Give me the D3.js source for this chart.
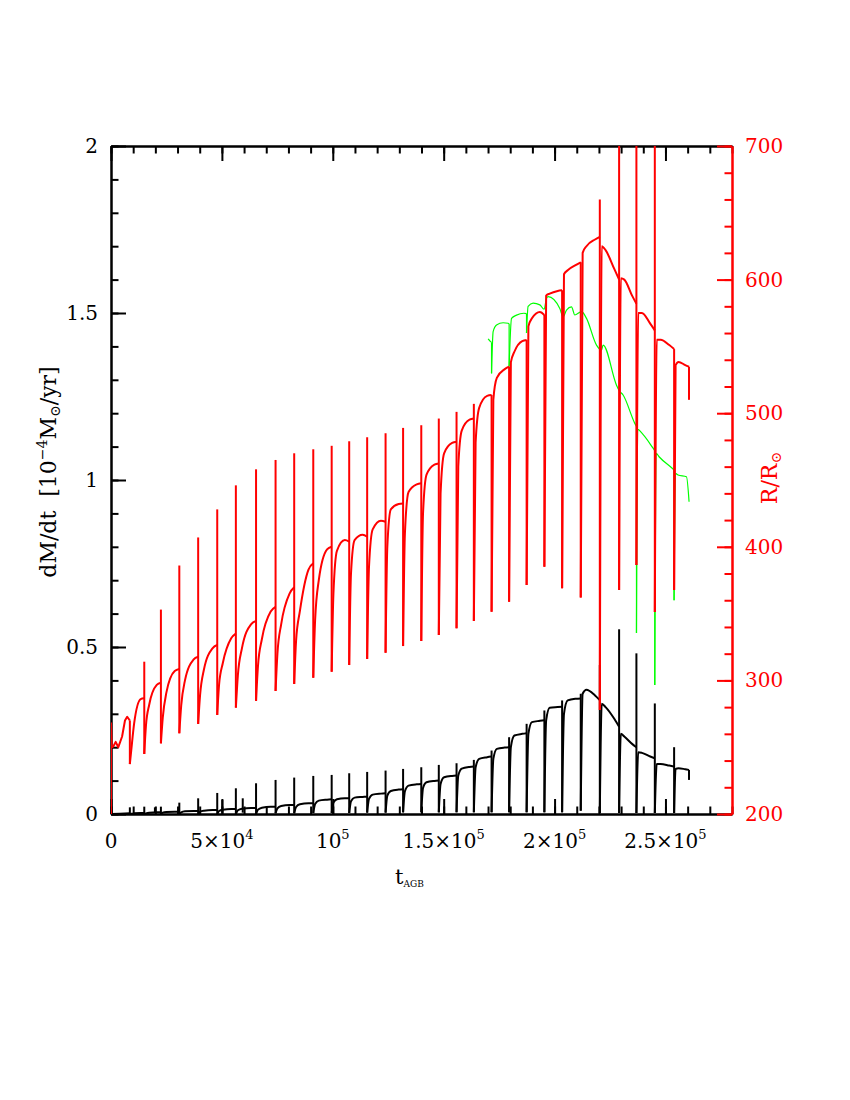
<!DOCTYPE html>
<html><head><meta charset="utf-8">
<script src="https://cdn.jsdelivr.net/npm/d3@7"></script>
<style>body{margin:0;background:#fff} text{font-family:"DejaVu Serif",serif}</style>
</head><body><svg id="c" width="850" height="1100" xmlns="http://www.w3.org/2000/svg"></svg>
<script>
// ---------------- DATA ----------------
// thermal pulse times (yr)
const pulseT = [8500, 15000, 22500, 30800, 39300, 47900, 56300, 65400, 74200, 82600, 91200, 99500, 107400, 115500, 123800, 131700, 139900, 147800, 155800, 163600, 171600, 179500, 187400, 195400, 203400, 211800, 220400, 229100, 236900, 245200, 253900];
const tEnd = 260600;

// Red: R/R_sun (right axis). Per pulse: spike top, post-pulse dip; per interpulse: values at ~10%, 30%, 75%, 100%
const rSpike = [null, 314, 353, 386, 407, 428, 446, 458, 465, 470, 473, 475.6, 479, 482, 485, 489, 491, 496, 501, 507, null, null, null, null, null, null, 660, 720, 720, 720, 442];
const rDip   = [237.4, 244.9, 252.9, 260.4, 267.4, 274.1, 279.6, 284.7, 292.1, 297.3, 302, 306.5, 311.5, 316, 320.7, 325.7, 329.5, 334, 339, 344.5, 351.4, 358.9, 371.4, 385.1, 368.9, 362, 277.8, 367.7, 386.4, 351.2, 367.7];
const rRise  = [248, 266, 272, 281, 289, 297, 304, 311, 320, 330, 345, 365, 380, 385, 400, 410, 425, 440, 460, 478, 510, 538, 565, 588, 604, 620, 625, 601, 575, 555, 536];
const rKnee  = [268, 282, 291, 300, 308, 313, 324, 331, 342, 352, 375, 397, 405, 413, 428, 441, 454, 470, 487, 504, 526.5, 546, 571, 589.5, 607, 625, 622, 600, 575, 555, 538.4];
const rTop   = [286, 296.6, 307, 315.5, 324, 331.5, 342, 351.5, 365, 383, 398, 405, 409, 419.5, 432, 446.7, 461.5, 477.7, 495.2, 513, 533, 554, 575.8, 591.5, 611, 630, 608, 588, 567, 551, 536];
const rEnd   = [286.6, 298.3, 308.5, 317.7, 326.5, 335, 344.5, 355, 369.7, 387.6, 400, 403.8, 407.5, 418.7, 432.4, 447.5, 462.4, 478.6, 496, 513.6, 534.8, 554.8, 573.5, 592, 613, 632, 600, 582, 562, 548, 534.8];
const rFinal = 510;
const rStartT = [0, 0, 300, 1000, 2100, 3300, 5000, 6300, 7300, 8500];
const rStartV = [200, 268, 250, 250.4, 254, 250, 258, 270, 272.8, 270];

// Black: dM/dt in 1e-4 Msun/yr (left axis)
const bSpike = [0.02, 0.022, 0.022, 0.034, 0.047, 0.063, 0.077, 0.092, 0.102, 0.109, 0.114, 0.117, 0.122, 0.126, 0.13, 0.135, 0.14, 0.147, 0.152, 0.162, 0.19, 0.23, 0.27, 0.31, 0.34, 0.36, 0.446, 0.553, 0.481, 0.331, 0.2];
const bDip   = [0, 0, 0, 0, 0, 0, 0, 0, 0.002, 0.002, 0.003, 0.003, 0.003, 0.004, 0.004, 0.005, 0.005, 0.005, 0.005, 0.005, 0.005, 0.005, 0.005, 0.005, 0.005, 0.01, 0.003, 0.003, 0.003, 0.003, 0.003];
const bRise  = [0.001, 0.002, 0.004, 0.005, 0.007, 0.009, 0.011, 0.013, 0.017, 0.021, 0.03, 0.034, 0.038, 0.045, 0.055, 0.068, 0.078, 0.09, 0.115, 0.14, 0.165, 0.2, 0.24, 0.28, 0.3, 0.36, 0.33, 0.24, 0.185, 0.15, 0.135];
const bKnee  = [0.002, 0.004, 0.006, 0.008, 0.010, 0.013, 0.016, 0.019, 0.024, 0.029, 0.04, 0.044, 0.049, 0.058, 0.069, 0.085, 0.095, 0.11, 0.136, 0.165, 0.195, 0.235, 0.275, 0.318, 0.34, 0.372, 0.32, 0.232, 0.183, 0.15, 0.137];
const bTop   = [0.003, 0.005, 0.007, 0.009, 0.012, 0.015, 0.018, 0.022, 0.027, 0.032, 0.043, 0.047, 0.051, 0.061, 0.073, 0.089, 0.099, 0.114, 0.141, 0.17, 0.199, 0.24, 0.279, 0.32, 0.345, 0.355, 0.285, 0.21, 0.172, 0.145, 0.134];
const bEnd   = [0.003, 0.005, 0.007, 0.009, 0.012, 0.015, 0.018, 0.022, 0.027, 0.032, 0.044, 0.047, 0.052, 0.062, 0.074, 0.09, 0.10, 0.115, 0.142, 0.172, 0.2, 0.242, 0.281, 0.321, 0.346, 0.341, 0.261, 0.2, 0.167, 0.142, 0.132];
const bFinal = 0.102;
const bExtraT = [19800, 50200, 59400];
const bExtraV = [0.02, 0.042, 0.047];

// Green: second radius estimate (right axis)
const greenT = [170050,171130,171580,171580,172300,173830,176810,179060,179510,179510,180590,182850,186140,187350,187350,188070,190330,193350,195290,196370,197090,202360,203850,205380,207640,209120,212140,214400,218900,221160,221880,227920,229090,230900,236170,236930,236930,237500,239190,244420,245180,245180,245800,247120,253160,253880,253880,254500,255680,259470,260640];
const greenR = [555.6,553.6,553,529.8,561,566,567.7,567.3,567,535,570.9,573.4,574.8,574.5,560,579.9,582.4,581.1,577.8,586,587.2,578.4,572.1,577.2,579.6,573.5,576,571,551,547.3,551,521,517,513.6,492.4,490,335.5,488,485.4,473.8,472,296.6,470,467.4,458.6,457.5,360,455,453.7,452.4,433.7];

// Axis ticks / labels
const xMajor = [0, 50000, 100000, 150000, 200000, 250000];
const xLabelMain = ["0", "5×10", "10", "1.5×10", "2×10", "2.5×10"];
const xLabelSup  = ["", "4", "5", "5", "5", "5"];
const yLeftMajor = [0, 0.5, 1, 1.5, 2];
const yLeftLabels = ["0", "0.5", "1", "1.5", "2"];
const yRightMajor = [200, 300, 400, 500, 600, 700];
const yRightLabels = ["200", "300", "400", "500", "600", "700"];

// ---------------- CHART ----------------
const svg = d3.select("#c");
const x = d3.scaleLinear().domain([0, 280000]).range([111, 732]);
const yL = d3.scaleLinear().domain([0, 2]).range([814, 146]);
const yR = d3.scaleLinear().domain([200, 700]).range([814, 146]);
const FR = [0, 0.1, 0.3, 0.75, 1.0];

svg.append("defs").append("clipPath").attr("id", "plotclip")
  .append("rect").attr("x", 111).attr("y", 146).attr("width", 621).attr("height", 668);

function addAxis(gen, transform, color, size, values) {
  const g = svg.append("g").attr("transform", transform)
    .call(gen.tickValues(values).tickSizeInner(-size).tickSizeOuter(0).tickFormat(""));
  g.selectAll("path,line").attr("stroke", color).attr("stroke-width", 2);
  return g;
}
const xMinor = d3.range(0, 280001, 10000);
addAxis(d3.axisBottom(x), "translate(0,814)", "#000", 7.5, xMinor);
addAxis(d3.axisBottom(x), "translate(0,814)", "#000", 15, xMajor);
addAxis(d3.axisTop(x), "translate(0,146)", "#000", 7.5, xMinor);
addAxis(d3.axisTop(x), "translate(0,146)", "#000", 15, xMajor);
addAxis(d3.axisLeft(yL), "translate(111,0)", "#000", 7.5, d3.range(0, 2.001, 0.1));
addAxis(d3.axisLeft(yL), "translate(111,0)", "#000", 15, yLeftMajor);
addAxis(d3.axisRight(yR), "translate(732,0)", "#f00", 7.5, d3.range(200, 700.1, 20));
addAxis(d3.axisRight(yR), "translate(732,0)", "#f00", 15, yRightMajor);

// tick labels
const fs = 20;
xMajor.forEach((v, i) => {
  const t = svg.append("text").attr("x", x(v)).attr("y", 848).attr("text-anchor", "middle")
    .attr("font-size", fs).attr("fill", "#000");
  t.append("tspan").text(xLabelMain[i]);
  if (xLabelSup[i]) t.append("tspan").attr("dy", -9).attr("font-size", 13).text(xLabelSup[i]);
});
yLeftMajor.forEach((v, i) => {
  svg.append("text").attr("x", 98).attr("y", yL(v) + 7).attr("text-anchor", "end")
    .attr("font-size", fs).attr("fill", "#000").text(yLeftLabels[i]);
});
yRightMajor.forEach((v, i) => {
  svg.append("text").attr("x", 745).attr("y", yR(v) + 7).attr("text-anchor", "start")
    .attr("font-size", fs).attr("fill", "#f00").text(yRightLabels[i]);
});

// axis titles
const xt = svg.append("text").attr("x", 395).attr("y", 884).attr("font-size", 21).attr("fill", "#000");
xt.append("tspan").text("t");
xt.append("tspan").attr("dy", 3).attr("font-size", 9).text("AGB");

const yt = svg.append("text").attr("transform", "translate(56,472) rotate(-90)")
  .attr("text-anchor", "middle").attr("font-size", 22).attr("fill", "#000");
yt.append("tspan").text("dM/dt\u00a0\u00a0[10");
yt.append("tspan").attr("dy", -9).attr("font-size", 14).text("−4");
yt.append("tspan").attr("dy", 9).text("M");
yt.append("tspan").attr("dy", 4).attr("font-size", 14).text("⊙");
yt.append("tspan").attr("dy", -4).text("/yr]");

const rt = svg.append("text").attr("transform", "translate(777,478) rotate(-90)")
  .attr("text-anchor", "middle").attr("font-size", 22).attr("fill", "#f00");
rt.append("tspan").text("R/R");
rt.append("tspan").attr("dy", 4).attr("font-size", 14).text("⊙");

// ---------------- CURVES ----------------
const plot = svg.append("g").attr("clip-path", "url(#plotclip)");
const lin = d3.line().x(d => x(d[0])).y(d => d[1]);
const smooth = d3.line().x(d => x(d[0])).y(d => d[1]).curve(d3.curveMonotoneX);

function drawPulsed(sc, spike, dip, rise, knee, top, end, startPts, finalV, color, w) {
  const g = plot.append("g").attr("fill", "none").attr("stroke", color)
    .attr("stroke-width", w).attr("stroke-linejoin", "round").attr("stroke-linecap", "butt");
  if (startPts) g.append("path").attr("d", lin(startPts.map(p => [p[0], sc(p[1])])));
  pulseT.forEach((t0, i) => {
    const t1 = i + 1 < pulseT.length ? pulseT[i + 1] : tEnd;
    const prev = i === 0 ? (startPts ? startPts[startPts.length - 1][1] : dip[0]) : end[i - 1];
    const hi = spike[i] == null ? prev : Math.max(prev, spike[i]);
    const lo = Math.min(prev, dip[i]);
    g.append("path").attr("d", lin([[t0, sc(hi)], [t0, sc(lo)]]));
    const vals = [dip[i], rise[i], knee[i], top[i], end[i]];
    const pts = FR.map((f, k) => [t0 + f * (t1 - t0), sc(vals[k])]);
    g.append("path").attr("d", smooth(pts));
  });
  if (finalV != null) {
    g.append("path").attr("d", lin([[tEnd, sc(end[end.length - 1])], [tEnd, sc(finalV)]]));
  }
  return g;
}

// black (left axis)
const gb = drawPulsed(yL, bSpike, bDip, bRise, bKnee, bTop, bEnd, [[0, 0], [4000, 0.001], [8500, 0.002]], bFinal, "#000", 2);
bExtraT.forEach((t, i) => {
  gb.append("path").attr("d", lin([[t, yL(0.004)], [t, yL(bExtraV[i])]]));
});

// green (right axis): smooth runs, vertical drops where time repeats
const gg = plot.append("g").attr("fill", "none").attr("stroke", "#00ff00").attr("stroke-width", 1.2);
let run = [];
greenT.forEach((t, i) => {
  const p = [t, yR(greenR[i])];
  if (i > 0 && t === greenT[i - 1]) {
    if (run.length > 1) gg.append("path").attr("d", smooth(run));
    gg.append("path").attr("d", lin([run[run.length - 1], p]));
    run = [p];
  } else run.push(p);
});
if (run.length > 1) gg.append("path").attr("d", smooth(run));

// red (right axis)
drawPulsed(yR, rSpike, rDip, rRise, rKnee, rTop, rEnd, rStartT.map((t, i) => [t, rStartV[i]]), rFinal, "#f00", 2);
</script></body></html>
